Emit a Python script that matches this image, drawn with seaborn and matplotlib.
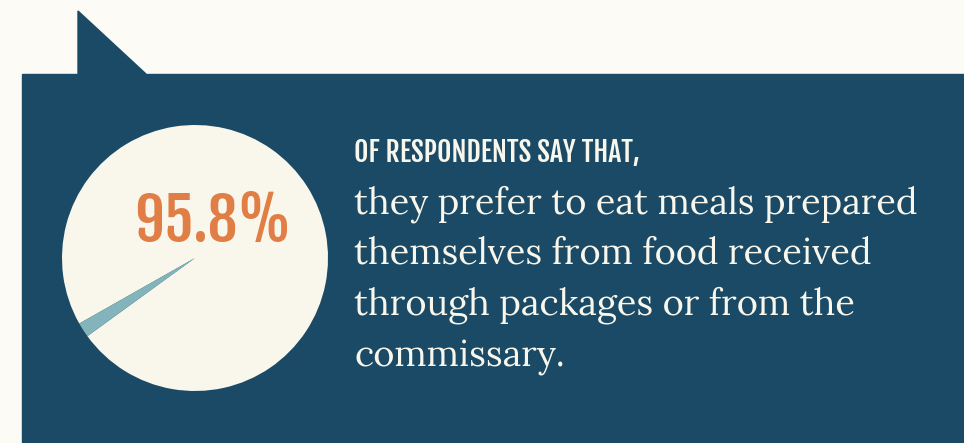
import numpy as np
import matplotlib
matplotlib.use("Agg")
import matplotlib.pyplot as plt
from matplotlib.patches import Rectangle, Polygon
import seaborn as sns

# data
slice_labels = ["prefer own meals", "other"]
slice_values = [98.2, 1.8]   # wedge as drawn in the picture
headline_pct = "95.8%"
kicker = "OF RESPONDENTS SAY THAT,"
body_lines = [
    "they prefer to eat meals prepared",
    "themselves from food received",
    "through packages or from the",
    "commissary.",
]

bg = "#fcfbf5"
navy = "#1b4a66"
cream = "#f9f7ec"
teal = "#83b4bc"
orange = "#e07e45"

sns.set_theme(style="white")
plt.rcParams["font.family"] = ["DejaVu Sans"]

W, H = 964, 443
fig = plt.figure(figsize=(W / 100, H / 100), dpi=100, facecolor=bg)
ax = fig.add_axes([0, 0, 1, 1])
ax.set_facecolor(bg)

# panel + speech bubble tail (y measured from top of image)
ax.add_patch(Rectangle((22, 0), W - 22, H - 74, color=navy, zorder=1))
ax.add_patch(Polygon([(78, H - 74), (78, H - 11), (146, H - 74)], closed=True, color=navy, zorder=1))

ax.pie(slice_values, colors=[cream, teal], startangle=216, counterclock=True,
       center=(195, H - 258), radius=133, wedgeprops=dict(linewidth=0, zorder=2))

ax.set_xlim(0, W)
ax.set_ylim(0, H)
ax.set_aspect("auto")
ax.axis("off")

cond = ["Fjalla One", "Oswald", "DejaVu Sans"]
ax.text(134, H - 242, headline_pct, color=orange, fontsize=42.5,
        family=cond, ha="left", va="baseline", zorder=3)

ax.text(354, H - 162, kicker, color=cream, fontsize=20,
        family=cond, ha="left", va="baseline", zorder=3)

for i, line in enumerate(body_lines):
    ax.text(354, H - (213 + 51 * i), line, color=cream, fontsize=26,
            family=["Lora", "DejaVu Serif"], ha="left", va="baseline", zorder=3)

fig.savefig("out.png", dpi=100, facecolor=bg)
